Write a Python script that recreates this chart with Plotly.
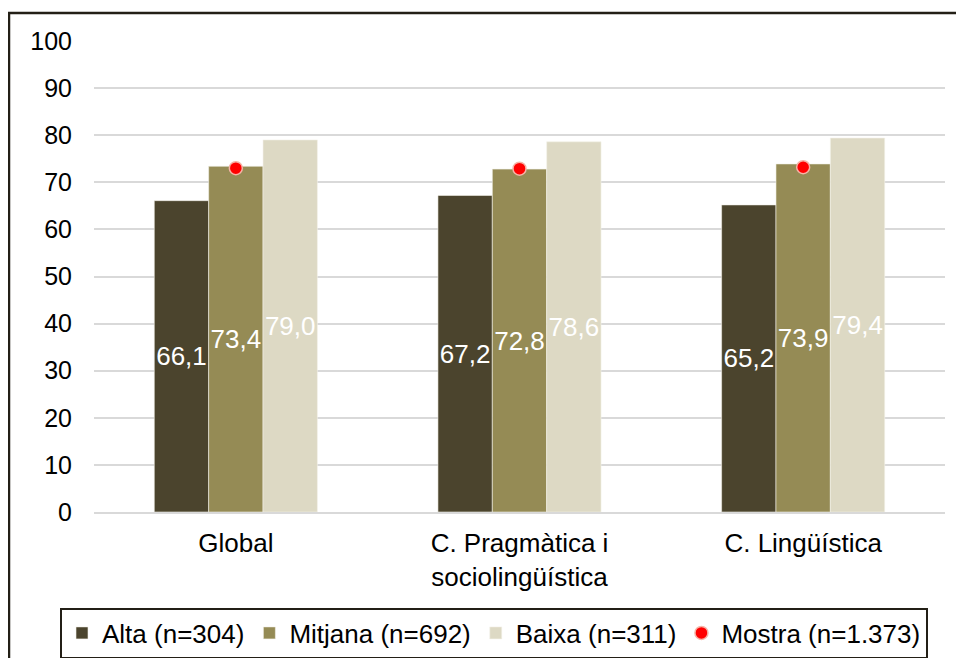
import plotly.graph_objects as go

categories = ["Global", "C. Pragmàtica i<br>sociolingüística", "C. Lingüística"]
alta = [66.1, 67.2, 65.2]
mitjana = [73.4, 72.8, 73.9]
baixa = [79.0, 78.6, 79.4]
mostra = [73.0, 72.9, 73.2]
names = ["Alta (n=304)", "Mitjana (n=692)", "Baixa (n=311)", "Mostra (n=1.373)"]
colors = ["#4b442d", "#958b55", "#ddd9c4"]
ytick_vals = list(range(0, 101, 10))

# page body has an 8px margin; figure is sized to fill the visible window
OFF = 8
W, H = 964 - OFF, 658 - OFF
ML, MT = 94 - OFF, 41 - OFF
PR, PB = 945 - OFF, 512 - OFF
MR, MB = W - PR, H - PB
PW, PH = PR - ML, PB - MT

def fmt(v):
    return f"{v:.1f}".replace(".", ",")

FONT = "Liberation Sans, Arial, sans-serif"
fig = go.Figure()
for vals, name, col in zip([alta, mitjana, baixa], names[:3], colors):
    fig.add_trace(go.Bar(
        x=categories, y=vals, name=name,
        marker=dict(color=col, line=dict(color="#f4f2ea", width=0.6)),
        text=[fmt(v) for v in vals], textposition="inside",
        insidetextanchor="middle", constraintext="none",
        textfont=dict(color="white", size=26, family=FONT),
        textangle=0,
    ))
fig.add_trace(go.Scatter(
    x=categories, y=mostra, name=names[3], mode="markers",
    marker=dict(color="#ff0000", size=13, line=dict(color="#f6b3a6", width=1.5)),
))

fig.update_layout(
    width=W, height=H,
    margin=dict(l=ML, r=MR, t=MT, b=MB, autoexpand=False),
    paper_bgcolor="white", plot_bgcolor="white",
    barmode="group", bargap=0.425, bargroupgap=0,
    font=dict(family=FONT, size=25, color="black"),
    showlegend=True,
    legend=dict(
        orientation="h",
        x=(60 - OFF - ML) / PW, xanchor="left",
        y=(PB - (633 - OFF)) / PH, yanchor="middle",
        bordercolor="#231f16", borderwidth=2, bgcolor="white",
        font=dict(size=26, family=FONT, color="black"),
        itemwidth=30, tracegroupgap=0,
        traceorder="normal",
    ),
    uniformtext=dict(minsize=26, mode="show"),
)
fig.update_xaxes(
    showgrid=False, showline=True, linecolor="#d9d9d9", linewidth=2,
    ticks="", tickfont=dict(size=26, family=FONT, color="black"),
    ticklabelstandoff=7, automargin=False,
)
fig.update_yaxes(
    range=[0, 100], tickvals=ytick_vals, showgrid=True, gridcolor="#d9d9d9",
    gridwidth=2, zeroline=False, showline=False, ticks="",
    tickfont=dict(size=25, family=FONT, color="black"),
    ticklabelstandoff=21, automargin=False,
)
fig.add_shape(
    type="rect", xref="paper", yref="paper",
    x0=(9 - OFF - ML) / PW, x1=(W + 20 - ML) / PW,
    y0=(PB - (H + 20)) / PH, y1=(PB - (13 - OFF)) / PH,
    line=dict(color="#231f16", width=2.5), fillcolor="rgba(0,0,0,0)", layer="below",
)
fig.write_html("out.html")
